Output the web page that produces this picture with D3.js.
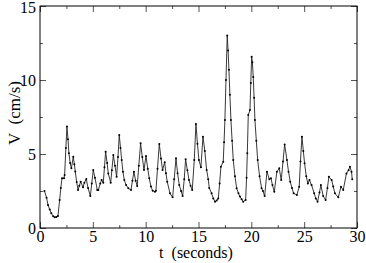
<!DOCTYPE html>
<html>
<head>
<meta charset="utf-8">
<script src="https://cdn.jsdelivr.net/npm/d3@7"></script>
<style>
  body { margin: 0; background: #fff; }
  .axis path { display: none; }
  .axis line { stroke: #555; stroke-width: 1; }
</style>
</head>
<body>
<script>
//velocity trace
var times = [0.42, 0.62, 0.76, 0.92, 1.07, 1.25, 1.39, 1.55, 1.70, 1.86, 1.97, 2.08, 2.27, 2.33, 2.45, 2.55, 2.65, 2.74, 2.85, 2.97,
    3.15, 3.25, 3.34, 3.47, 3.60, 3.72, 3.85, 4.07, 4.20, 4.38, 4.55, 4.76, 4.90, 5.04, 5.20, 5.42, 5.52, 5.70, 5.83, 5.99,
    6.10, 6.21, 6.35, 6.46, 6.69, 6.80, 6.94, 7.10, 7.25, 7.38, 7.50, 7.62, 7.73, 7.85, 7.98, 8.15, 8.36, 8.61, 8.75, 8.89,
    9.05, 9.20, 9.35, 9.52, 9.68, 9.84, 10.03, 10.20, 10.34, 10.50, 10.66, 10.88, 10.97, 11.12, 11.29, 11.45, 11.60, 11.80, 11.92, 12.04,
    12.30, 12.55, 12.70, 12.87, 13.02, 13.18, 13.35, 13.50, 13.65, 13.78, 13.95, 14.10, 14.25, 14.41, 14.60, 14.76, 14.90, 15.04, 15.23, 15.42,
    15.60, 15.77, 15.92, 16.02, 16.24, 16.40, 16.56, 16.72, 16.87, 17.00, 17.12, 17.34, 17.42, 17.50, 17.60, 17.72, 17.80, 17.88, 17.97, 18.07,
    18.18, 18.29, 18.45, 18.61, 18.78, 18.92, 19.08, 19.23, 19.46, 19.55, 19.62, 19.71, 19.87, 19.95, 20.03, 20.10, 20.18, 20.26, 20.34, 20.47,
    20.60, 20.78, 20.97, 21.10, 21.26, 21.48, 21.70, 21.86, 22.00, 22.17, 22.42, 22.64, 22.83, 23.00, 23.15, 23.37, 23.52, 23.68, 23.85, 24.00,
    24.31, 24.53, 24.65, 24.79, 24.92, 25.04, 25.20, 25.35, 25.50, 25.70, 25.95, 26.10, 26.27, 26.45, 26.58, 26.80, 27.03, 27.20, 27.34, 27.60,
    27.75, 27.91, 28.23, 28.48, 28.70, 29.00, 29.20, 29.33, 29.48, 29.55];
var velocities = [2.50, 2.05, 1.55, 1.25, 0.99, 0.80, 0.72, 0.75, 0.81, 1.89, 2.70, 3.36, 3.36, 3.58, 5.40, 6.85, 6.00, 5.05, 4.40, 4.03,
    4.82, 4.30, 3.81, 3.10, 2.57, 2.85, 3.13, 2.75, 3.05, 3.31, 2.70, 2.16, 3.00, 3.92, 3.40, 2.57, 2.57, 3.00, 3.24, 3.06,
    4.10, 5.16, 4.40, 3.69, 3.06, 3.90, 4.93, 4.20, 3.47, 4.80, 6.28, 5.40, 4.59, 3.80, 3.24, 2.90, 2.68, 2.57, 3.20, 3.80,
    3.20, 2.84, 4.20, 5.72, 4.80, 3.92, 4.86, 4.00, 3.36, 2.80, 2.52, 2.45, 2.52, 4.00, 5.68, 4.70, 3.92, 4.44, 3.70, 3.13,
    2.34, 2.07, 3.30, 4.71, 3.70, 2.90, 2.50, 2.16, 3.30, 4.64, 3.90, 3.24, 2.85, 2.57, 4.60, 7.03, 5.70, 4.59, 4.10, 6.17,
    5.20, 3.92, 3.30, 2.70, 2.34, 2.00, 1.78, 1.85, 2.00, 3.00, 4.14, 4.48, 5.80, 7.30, 10.0, 13.0, 12.0, 10.7, 9.00, 7.30,
    5.90, 4.59, 3.50, 2.68, 2.35, 2.12, 1.95, 1.78, 1.89, 3.40, 5.05, 7.64, 7.97, 9.80, 11.57, 11.20, 10.20, 8.80, 7.30, 5.90,
    4.59, 3.50, 2.68, 2.50, 2.16, 3.80, 3.29, 3.36, 2.90, 2.45, 3.80, 4.03, 3.24, 4.50, 5.65, 4.59, 3.80, 3.13, 2.70, 2.34,
    2.23, 2.79, 4.50, 6.17, 5.20, 4.37, 3.50, 3.00, 3.24, 2.90, 2.34, 2.00, 1.78, 2.40, 2.90, 2.16, 1.89, 2.70, 3.47, 3.24,
    2.80, 2.34, 2.07, 2.79, 2.57, 3.69, 3.90, 4.14, 3.80, 3.30];

var xMajor = [0, 5, 10, 15, 20, 25, 30],
    xMinor = [2.5, 7.5, 12.5, 17.5, 22.5, 27.5],
    yMajor = [0, 5, 10, 15],
    yMinor = [2.5, 7.5, 12.5];

var serif = "'Liberation Serif', 'Times New Roman', Times, serif";

window.onload = drawChart;

function drawChart(){

    var width = 366,
        height = 263;

    var svg = d3.select("body")
        .append("svg")
        .attr("width", width)
        .attr("height", height);

    //plot frame edges
    var x0 = 40, x1 = 357, y0 = 6, y1 = 228;

    var x = d3.scaleLinear().domain([0, 30]).range([x0, x1]);
    var y = d3.scaleLinear().domain([0, 15]).range([y1, y0]);

    var data = times.map(function(t, i){ return {t: t, v: velocities[i]}; });

    //axes, ticks pointing inward on all four sides
    svg.append("g").attr("class", "axis")
        .attr("transform", "translate(0," + y1 + ")")
        .call(d3.axisBottom(x).tickValues(xMajor).tickSize(-6).tickPadding(3).tickFormat(d3.format("d")))
        .attr("font-family", serif)
        .attr("font-size", 16)
        .selectAll("text").attr("fill", "#000");
    svg.append("g").attr("class", "axis")
        .attr("transform", "translate(0," + y1 + ")")
        .call(d3.axisBottom(x).tickValues(xMinor).tickSize(-3).tickFormat(""));
    svg.append("g").attr("class", "axis")
        .attr("transform", "translate(0," + y0 + ")")
        .call(d3.axisTop(x).tickValues(xMajor).tickSize(-6).tickFormat(""));
    svg.append("g").attr("class", "axis")
        .attr("transform", "translate(0," + y0 + ")")
        .call(d3.axisTop(x).tickValues(xMinor).tickSize(-3).tickFormat(""));

    var yAxis = svg.append("g").attr("class", "axis")
        .attr("transform", "translate(" + x0 + ",0)")
        .call(d3.axisLeft(y).tickValues(yMajor).tickSize(-6).tickPadding(4).tickFormat(d3.format("d")))
        .attr("font-family", serif)
        .attr("font-size", 16);
    yAxis.selectAll("text").attr("fill", "#000");
    //keep the top label inside the picture
    yAxis.selectAll(".tick text").filter(function(d){ return d === 15; }).attr("dy", "0.4em");

    svg.append("g").attr("class", "axis")
        .attr("transform", "translate(" + x0 + ",0)")
        .call(d3.axisLeft(y).tickValues(yMinor).tickSize(-3).tickFormat(""));
    svg.append("g").attr("class", "axis")
        .attr("transform", "translate(" + x1 + ",0)")
        .call(d3.axisRight(y).tickValues(yMajor).tickSize(-6).tickFormat(""));
    svg.append("g").attr("class", "axis")
        .attr("transform", "translate(" + x1 + ",0)")
        .call(d3.axisRight(y).tickValues(yMinor).tickSize(-3).tickFormat(""));

    svg.append("rect")
        .attr("x", x0)
        .attr("y", y0)
        .attr("width", x1 - x0)
        .attr("height", y1 - y0)
        .attr("fill", "none")
        .attr("stroke", "#000")
        .attr("stroke-width", 1);

    //trace
    var line = d3.line()
        .x(function(d){ return x(d.t); })
        .y(function(d){ return y(d.v); });

    svg.append("path")
        .datum(data)
        .attr("d", line)
        .attr("fill", "none")
        .attr("stroke", "#222")
        .attr("stroke-width", 0.9);

    svg.selectAll(".pt")
        .data(data)
        .enter()
        .append("circle")
        .attr("class", "pt")
        .attr("cx", function(d){ return x(d.t); })
        .attr("cy", function(d){ return y(d.v); })
        .attr("r", 1)
        .attr("fill", "#000");

    //axis titles
    svg.append("text")
        .attr("x", 196)
        .attr("y", 258)
        .attr("text-anchor", "middle")
        .attr("font-family", serif)
        .attr("font-size", 16)
        .style("white-space", "pre")
        .text("t  (seconds)");

    svg.append("text")
        .attr("transform", "translate(20,113) rotate(-90)")
        .attr("text-anchor", "middle")
        .attr("font-family", serif)
        .attr("font-size", 17)
        .style("white-space", "pre")
        .text("V  (cm/s)");
};
</script>
</body>
</html>
